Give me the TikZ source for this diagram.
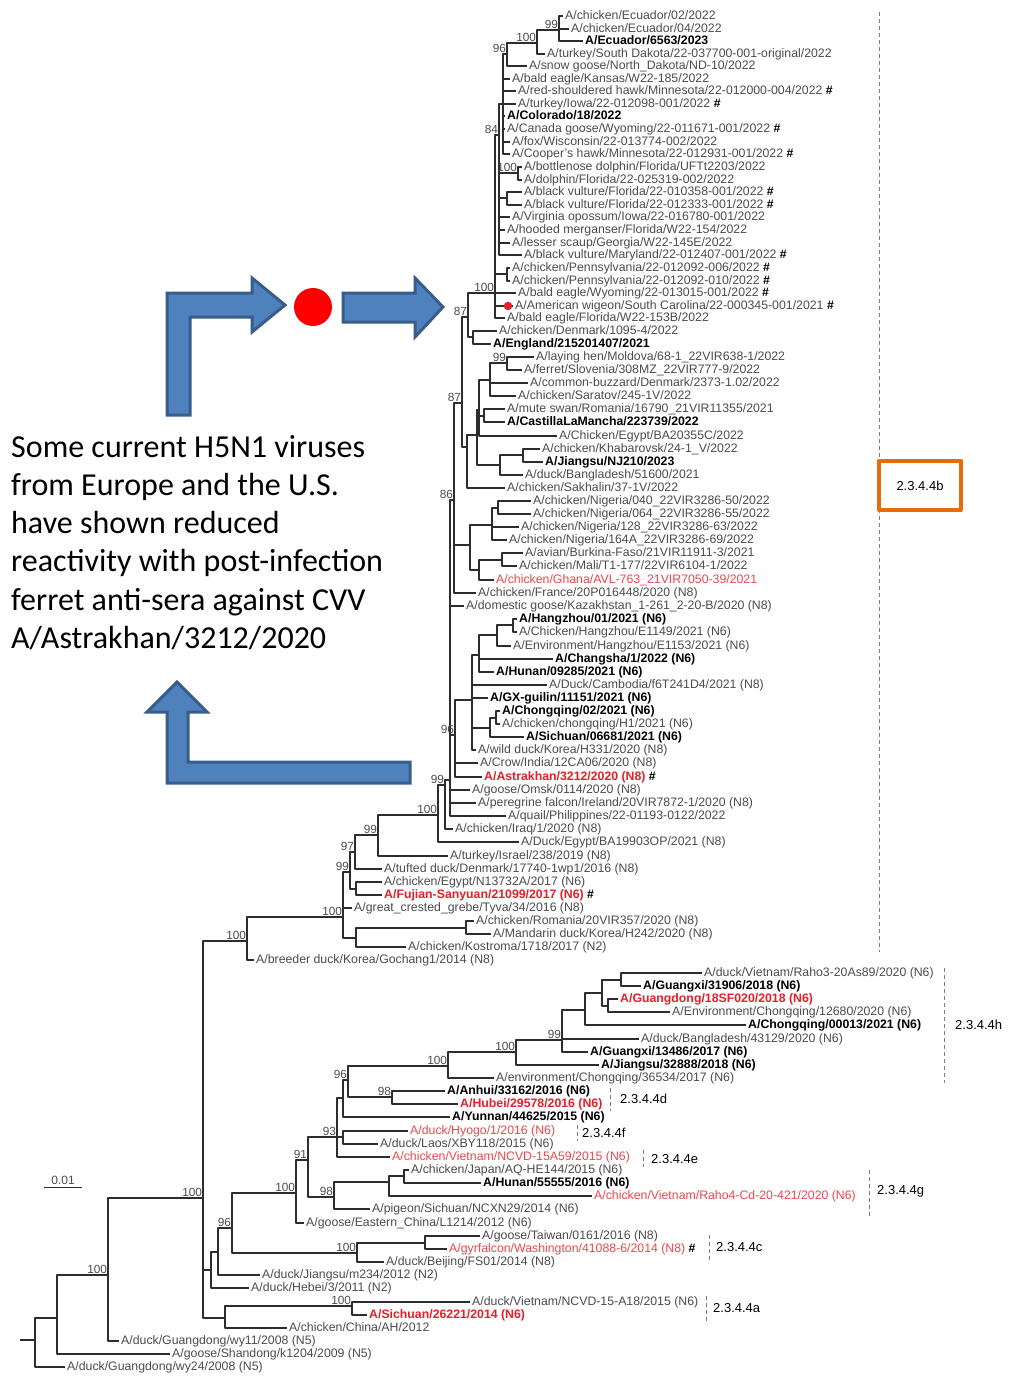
\documentclass[tikz,border=0pt]{standalone}
\usepackage{fontspec}
\setmainfont{Liberation Sans}
\newfontfamily\notefont{Carlito}
\definecolor{treegray}{RGB}{45,45,45}
\definecolor{leafgray}{RGB}{75,75,75}
\definecolor{virred}{RGB}{230,30,40}
\definecolor{virredlt}{RGB}{238,70,75}
\definecolor{arrowblue}{RGB}{79,129,189}
\definecolor{arrowedge}{RGB}{56,93,138}
\definecolor{boxorange}{RGB}{228,108,10}
\newcommand{\hashmark}{\ {\color{black}\bfseries\#}}
\tikzset{
  leaf/.style={anchor=west, inner xsep=2pt, inner ysep=0pt, text height=9pt, text depth=1.5pt, font=\fontsize{12.3}{13}\selectfont, text=leafgray},
  leafb/.style={leaf, font=\fontsize{12.3}{13}\selectfont\bfseries, text=black},
  leafr/.style={leaf, text=virredlt},
  leafrb/.style={leafb, text=virred},
  boot/.style={anchor=south east, inner sep=0.8pt, font=\fontsize{11.8}{12}\selectfont, text=leafgray},
  br/.style={draw=treegray, line width=1.3pt},
  cladeline/.style={draw=gray, line width=1pt, dash pattern=on 4pt off 3pt},
  cladetext/.style={anchor=west, inner sep=0pt, font=\fontsize{13}{14}\selectfont, text=black},
  blockarrow/.style={fill=arrowblue, draw=arrowedge, line width=3pt, line join=miter},
  note/.style={anchor=base west, inner sep=0pt, font=\fontsize{32}{38}\notefont}
}
\begin{document}
\begin{tikzpicture}[x=1pt, y=-1pt, line join=round]
\useasboundingbox (0,0) rectangle (1011,1376);
% leaves, 2.3.4.4b
\node[leaf] (t1) at (563,16) {A/chicken/Ecuador/02/2022};
\node[leaf] (t2) at (569,29) {A/chicken/Ecuador/04/2022};
\node[leafb] (t3) at (583,41) {A/Ecuador/6563/2023};
\node[leaf] (t4) at (545,54) {A/turkey/South Dakota/22-037700-001-original/2022};
\node[leaf] (t5) at (527,66) {A/snow goose/North\_Dakota/ND-10/2022};
\node[leaf] (t6) at (510,79) {A/bald eagle/Kansas/W22-185/2022};
\node[leaf] (t7) at (516,91) {A/red-shouldered hawk/Minnesota/22-012000-004/2022\hashmark};
\node[leaf] (t8) at (516,104) {A/turkey/Iowa/22-012098-001/2022\hashmark};
\node[leafb] (t9) at (505,116) {A/Colorado/18/2022};
\node[leaf] (t10) at (505,129) {A/Canada goose/Wyoming/22-011671-001/2022\hashmark};
\node[leaf] (t11) at (510,142) {A/fox/Wisconsin/22-013774-002/2022};
\node[leaf] (t12) at (510,154) {A/Cooper's hawk/Minnesota/22-012931-001/2022\hashmark};
\node[leaf] (t13) at (522,167) {A/bottlenose dolphin/Florida/UFTt2203/2022};
\node[leaf] (t14) at (522,180) {A/dolphin/Florida/22-025319-002/2022};
\node[leaf] (t15) at (522,192) {A/black vulture/Florida/22-010358-001/2022\hashmark};
\node[leaf] (t16) at (522,205) {A/black vulture/Florida/22-012333-001/2022\hashmark};
\node[leaf] (t17) at (510,217) {A/Virginia opossum/Iowa/22-016780-001/2022};
\node[leaf] (t18) at (505,230) {A/hooded merganser/Florida/W22-154/2022};
\node[leaf] (t19) at (510,243) {A/lesser scaup/Georgia/W22-145E/2022};
\node[leaf] (t20) at (522,255) {A/black vulture/Maryland/22-012407-001/2022\hashmark};
\node[leaf] (t21) at (510,268) {A/chicken/Pennsylvania/22-012092-006/2022\hashmark};
\node[leaf] (t22) at (510,281) {A/chicken/Pennsylvania/22-012092-010/2022\hashmark};
\node[leaf] (t23) at (516,293) {A/bald eagle/Wyoming/22-013015-001/2022\hashmark};
\node[leaf] (t24) at (513,306) {A/American wigeon/South Carolina/22-000345-001/2021\hashmark};
\node[leaf] (t25) at (505,318) {A/bald eagle/Florida/W22-153B/2022};
\node[leaf] (t26) at (497,331) {A/chicken/Denmark/1095-4/2022};
\node[leafb] (t27) at (491,344) {A/England/215201407/2021};
\node[leaf] (t28) at (534,357) {A/laying hen/Moldova/68-1\_22VIR638-1/2022};
\node[leaf] (t29) at (522,370) {A/ferret/Slovenia/308MZ\_22VIR777-9/2022};
\node[leaf] (t30) at (528,383) {A/common-buzzard/Denmark/2373-1.02/2022};
\node[leaf] (t31) at (516,396) {A/chicken/Saratov/245-1V/2022};
\node[leaf] (t32) at (505,409) {A/mute swan/Romania/16790\_21VIR11355/2021};
\node[leafb] (t33) at (505,422) {A/CastillaLaMancha/223739/2022};
\node[leaf] (t34) at (557,436) {A/Chicken/Egypt/BA20355C/2022};
\node[leaf] (t35) at (540,449) {A/chicken/Khabarovsk/24-1\_V/2022};
\node[leafb] (t36) at (543,462) {A/Jiangsu/NJ210/2023};
\node[leaf] (t37) at (523,475) {A/duck/Bangladesh/51600/2021};
\node[leaf] (t38) at (505,488) {A/chicken/Sakhalin/37-1V/2022};
\node[leaf] (t39) at (531,501) {A/chicken/Nigeria/040\_22VIR3286-50/2022};
\node[leaf] (t40) at (531,514) {A/chicken/Nigeria/064\_22VIR3286-55/2022};
\node[leaf] (t41) at (519,527) {A/chicken/Nigeria/128\_22VIR3286-63/2022};
\node[leaf] (t42) at (507,540) {A/chicken/Nigeria/164A\_22VIR3286-69/2022};
\node[leaf] (t43) at (523,553) {A/avian/Burkina-Faso/21VIR11911-3/2021};
\node[leaf] (t44) at (517,566) {A/chicken/Mali/T1-177/22VIR6104-1/2022};
\node[leafr] (t45) at (494,580) {A/chicken/Ghana/AVL-763\_21VIR7050-39/2021};
\node[leaf] (t46) at (476,593) {A/chicken/France/20P016448/2020 (N8)};
\node[leaf] (t47) at (464,606) {A/domestic goose/Kazakhstan\_1-261\_2-20-B/2020 (N8)};
\node[leafb] (t48) at (517,619) {A/Hangzhou/01/2021 (N6)};
\node[leaf] (t49) at (517,632) {A/Chicken/Hangzhou/E1149/2021 (N6)};
\node[leaf] (t50) at (511,646) {A/Environment/Hangzhou/E1153/2021 (N6)};
\node[leafb] (t51) at (553,659) {A/Changsha/1/2022 (N6)};
\node[leafb] (t52) at (494,672) {A/Hunan/09285/2021 (N6)};
\node[leaf] (t53) at (547,685) {A/Duck/Cambodia/f6T241D4/2021 (N8)};
\node[leafb] (t54) at (488,698) {A/GX-guilin/11151/2021 (N6)};
\node[leafb] (t55) at (500,711) {A/Chongqing/02/2021 (N6)};
\node[leaf] (t56) at (500,724) {A/chicken/chongqing/H1/2021 (N6)};
\node[leafb] (t57) at (524,737) {A/Sichuan/06681/2021 (N6)};
\node[leaf] (t58) at (476,750) {A/wild duck/Korea/H331/2020 (N8)};
\node[leaf] (t59) at (478,763) {A/Crow/India/12CA06/2020 (N8)};
\node[leafrb] (t60) at (482,777) {A/Astrakhan/3212/2020 (N8)\hashmark};
\node[leaf] (t61) at (470,790) {A/goose/Omsk/0114/2020 (N8)};
\node[leaf] (t62) at (476,803) {A/peregrine falcon/Ireland/20VIR7872-1/2020 (N8)};
\node[leaf] (t63) at (506,816) {A/quail/Philippines/22-01193-0122/2022};
\node[leaf] (t64) at (453,829) {A/chicken/Iraq/1/2020 (N8)};
\node[leaf] (t65) at (519,842) {A/Duck/Egypt/BA19903OP/2021 (N8)};
\node[leaf] (t66) at (448,856) {A/turkey/Israel/238/2019 (N8)};
\node[leaf] (t67) at (382,869) {A/tufted duck/Denmark/17740-1wp1/2016 (N8)};
\node[leaf] (t68) at (382,882) {A/chicken/Egypt/N13732A/2017 (N6)};
\node[leafrb] (t69) at (382,895) {A/Fujian-Sanyuan/21099/2017 (N6)\hashmark};
\node[leaf] (t70) at (352,908) {A/great\_crested\_grebe/Tyva/34/2016 (N8)};
\node[leaf] (t71) at (474,921) {A/chicken/Romania/20VIR357/2020 (N8)};
\node[leaf] (t72) at (491,934) {A/Mandarin duck/Korea/H242/2020 (N8)};
\node[leaf] (t73) at (406,947) {A/chicken/Kostroma/1718/2017 (N2)};
\node[leaf] (t74) at (254,960) {A/breeder duck/Korea/Gochang1/2014 (N8)};
% leaves, older clades
\node[leaf] (t75) at (702,973) {A/duck/Vietnam/Raho3-20As89/2020 (N6)};
\node[leafb] (t76) at (641,986) {A/Guangxi/31906/2018 (N6)};
\node[leafrb] (t77) at (618,999) {A/Guangdong/18SF020/2018 (N6)};
\node[leaf] (t78) at (670,1012) {A/Environment/Chongqing/12680/2020 (N6)};
\node[leafb] (t79) at (746,1025) {A/Chongqing/00013/2021 (N6)};
\node[leaf] (t80) at (639,1039) {A/duck/Bangladesh/43129/2020 (N6)};
\node[leafb] (t81) at (588,1052) {A/Guangxi/13486/2017 (N6)};
\node[leafb] (t82) at (599,1065) {A/Jiangsu/32888/2018 (N6)};
\node[leaf] (t83) at (494,1078) {A/environment/Chongqing/36534/2017 (N6)};
\node[leafb] (t84) at (445,1091) {A/Anhui/33162/2016 (N6)};
\node[leafrb] (t85) at (458,1104) {A/Hubei/29578/2016 (N6)};
\node[leafb] (t86) at (450,1117) {A/Yunnan/44625/2015 (N6)};
\node[leafr] (t87) at (408,1131) {A/duck/Hyogo/1/2016 (N6)};
\node[leaf] (t88) at (378,1144) {A/duck/Laos/XBY118/2015 (N6)};
\node[leafr] (t89) at (390,1157) {A/chicken/Vietnam/NCVD-15A59/2015 (N6)};
\node[leaf] (t90) at (409,1170) {A/chicken/Japan/AQ-HE144/2015 (N6)};
\node[leafb] (t91) at (481,1183) {A/Hunan/55555/2016 (N6)};
\node[leafr] (t92) at (592,1196) {A/chicken/Vietnam/Raho4-Cd-20-421/2020 (N6)};
\node[leaf] (t93) at (370,1209) {A/pigeon/Sichuan/NCXN29/2014 (N6)};
\node[leaf] (t94) at (304,1223) {A/goose/Eastern\_China/L1214/2012 (N6)};
\node[leaf] (t95) at (480,1236) {A/goose/Taiwan/0161/2016 (N8)};
\node[leafr] (t96) at (447,1249) {A/gyrfalcon/Washington/41088-6/2014 (N8)\hashmark};
\node[leaf] (t97) at (384,1262) {A/duck/Beijing/FS01/2014 (N8)};
\node[leaf] (t98) at (260,1275) {A/duck/Jiangsu/m234/2012 (N2)};
\node[leaf] (t99) at (249,1288) {A/duck/Hebei/3/2011 (N2)};
\node[leaf] (t100) at (470,1302) {A/duck/Vietnam/NCVD-15-A18/2015 (N6)};
\node[leafrb] (t101) at (367,1315) {A/Sichuan/26221/2014 (N6)};
\node[leaf] (t102) at (287,1328) {A/chicken/China/AH/2012};
\node[leaf] (t103) at (119,1341) {A/duck/Guangdong/wy11/2008 (N5)};
\node[leaf] (t104) at (170,1354) {A/goose/Shandong/k1204/2009 (N5)};
\node[leaf] (t105) at (65,1367) {A/duck/Guangdong/wy24/2008 (N5)};
% inner nodes
\coordinate (a1) at (559,30); \coordinate (a2) at (537,43); \coordinate (a3) at (507,54);
\coordinate (a4) at (503,104); \coordinate (b1) at (499,135); \coordinate (d1) at (518,173);
\coordinate (d2) at (507,198); \coordinate (c1) at (495,293); \coordinate (d3) at (507,274);
\coordinate (d4) at (473,337); \coordinate (c2) at (468,317); \coordinate (e1) at (507,363);
\coordinate (e2) at (490,380); \coordinate (e3) at (484,416); \coordinate (e4) at (479,410);
\coordinate (e5) at (523,455); \coordinate (e6) at (500,465); \coordinate (e7) at (477,435);
\coordinate (e8) at (467,447); \coordinate (g1) at (462,403); \coordinate (h1) at (498,508);
\coordinate (h2) at (492,525); \coordinate (h5) at (502,560); \coordinate (h4) at (479,570);
\coordinate (h3) at (470,545); \coordinate (g2) at (454,500); \coordinate (k7) at (513,625);
\coordinate (k8) at (497,635); \coordinate (k9) at (479,655); \coordinate (k4) at (496,718);
\coordinate (k5) at (490,728); \coordinate (k10) at (472,700); \coordinate (k13) at (455,735);
\coordinate (k14) at (450,780); \coordinate (k15) at (445,785); \coordinate (k16) at (438,815);
\coordinate (m1) at (378,835); \coordinate (m2) at (355,852); \coordinate (m3) at (356,889);
\coordinate (m4) at (350,872); \coordinate (m7) at (466,928); \coordinate (m6) at (356,938);
\coordinate (m5) at (343,917); \coordinate (m8) at (247,941);
\coordinate (n1) at (621,980); \coordinate (n2) at (608,1006); \coordinate (n3) at (602,993);
\coordinate (n4) at (585,1010); \coordinate (n5) at (562,1040); \coordinate (n6) at (516,1052);
\coordinate (n7) at (448,1066); \coordinate (n8) at (392,1097); \coordinate (n9) at (348,1080);
\coordinate (n10) at (343,1098); \coordinate (p1) at (343,1137); \coordinate (p2) at (337,1137);
\coordinate (p6) at (404,1176); \coordinate (p5) at (389,1182); \coordinate (p4) at (334,1197);
\coordinate (p7) at (308,1160); \coordinate (p3) at (296,1193); \coordinate (q1) at (425,1243);
\coordinate (q2) at (357,1253); \coordinate (q3) at (232,1228); \coordinate (q4) at (218,1252);
\coordinate (q5) at (211,1270); \coordinate (r1) at (352,1306); \coordinate (r2) at (225,1318);
\coordinate (s1) at (203,1198); \coordinate (s2) at (108,1275); \coordinate (s3) at (57,1318);
\coordinate (s4) at (35,1340); \coordinate (root) at (20,1340);
% branches
\foreach \p/\c in {a1/t1, a1/t2, a1/t3, a2/a1, a2/t4, a3/a2, a3/t5, a4/a3, a4/t6, a4/t7, a4/t8,
  a4/t9, a4/t10, a4/t11, a4/t12, d1/t13, d1/t14, d2/t15, d2/t16, b1/a4, b1/d1, b1/d2, b1/t17,
  b1/t18, b1/t19, b1/t20, d3/t21, d3/t22, c1/b1, c1/d3, c1/t23, c1/t24, c1/t25, d4/t26, d4/t27,
  c2/c1, c2/d4, e1/t28, e1/t29, e2/e1, e2/t30, e2/t31, e3/t32, e3/t33, e4/e2, e4/e3, e4/t34,
  e5/t35, e5/t36, e6/e5, e6/t37, e7/e4, e7/e6, e8/e7, e8/t38, g1/c2, g1/e8, h1/t39, h1/t40,
  h2/h1, h2/t41, h2/t42, h5/t43, h5/t44, h4/h5, h4/t45, h3/h2, h3/h4, g2/g1, g2/h3, g2/t46,
  k7/t48, k7/t49, k8/k7, k8/t50, k9/k8, k9/t51, k9/t52, k4/t55, k4/t56, k5/k4, k5/t57, k10/k9,
  k10/t53, k10/t54, k10/k5, k10/t58, k13/k10, k13/t59, k13/t60, k14/g2, k14/t47, k14/k13,
  k14/t61, k14/t62, k14/t63, k15/k14, k15/t64, k16/k15, k16/t65, m1/k16, m1/t66, m2/m1, m2/t67,
  m3/t68, m3/t69, m4/m2, m4/m3, m7/t71, m7/t72, m6/m7, m6/t73, m5/m4, m5/t70, m5/m6, m8/m5,
  m8/t74}
  \draw[br] (\p) |- (\c);
\foreach \p/\c in {n1/t75, n1/t76, n2/t77, n2/t78, n3/n1, n3/n2, n4/n3, n4/t79, n5/n4, n5/t80,
  n5/t81, n6/n5, n6/t82, n7/n6, n7/t83, n8/t84, n8/t85, n9/n7, n9/n8, n10/n9, n10/t86, p1/t87,
  p1/t88, p2/n10, p2/p1, p2/t89, p6/t90, p6/t91, p5/p6, p5/t92, p4/p5, p4/t93, p7/p2, p7/p4,
  p3/p7, p3/t94, q1/t95, q1/t96, q2/q1, q2/t97, q3/p3, q3/q2, q4/q3, q4/t98, q5/q4, q5/t99,
  r1/t100, r1/t101, r2/r1, r2/t102, s1/m8, s1/q5, s1/r2, s2/s1, s2/t103, s3/s2, s3/t104,
  s4/s3, s4/t105, root/s4}
  \draw[br] (\p) |- (\c);
% support values
\foreach \n/\v in {a1/99, a2/100, a3/96, b1/84, d1/100, c1/100, c2/87, g1/87, e1/99, g2/86,
  k13/96, k15/99, k16/100, m1/99, m2/97, m4/99, m5/100, m8/100, s1/100, n5/99, n6/100,
  n7/100, n9/96, n8/98, p2/93, p7/91, p3/100, p4/98, q3/96, q2/100, r1/100, s2/100}
  \node[boot] (bs-\n) at (\n) {\v};
\node[circle, fill=virred, inner sep=0pt, minimum size=8.5pt] (wigeondot) at (508,306) {};
% clade marks
\draw[cladeline] (879,12) -- (879,952);
\node[draw=boxorange, line width=4pt, fill=white, minimum width=82pt, minimum height=49pt,
  font=\fontsize{13}{14}\selectfont] (cb) at (920,485.5) {2.3.4.4b};
\draw[cladeline] (944,968) -- (944,1083);
\node[cladetext] (ch) at (955,1025) {2.3.4.4h};
\draw[cladeline] (610,1088) -- (610,1111);
\node[cladetext] (cd) at (620,1099) {2.3.4.4d};
\draw[cladeline] (577,1125) -- (577,1141);
\node[cladetext] (cf) at (582,1133) {2.3.4.4f};
\draw[cladeline] (643,1150) -- (643,1167);
\node[cladetext] (ce) at (651,1159) {2.3.4.4e};
\draw[cladeline] (869,1170) -- (869,1218);
\node[cladetext] (cg) at (877,1191) {2.3.4.4g};
\draw[cladeline] (709,1235) -- (709,1263);
\node[cladetext] (cc) at (716,1247) {2.3.4.4c};
\draw[cladeline] (706,1296) -- (706,1322);
\node[cladetext] (ca) at (713,1308) {2.3.4.4a};
% scale bar
\coordinate (sb0) at (44,1187); \coordinate (sb1) at (82,1187);
\draw[br, line width=1pt] (sb0) -- (sb1);
\node[anchor=south, inner sep=1pt, font=\fontsize{12}{13}\selectfont, text=leafgray] (sbl) at (63,1186) {0.01};
% arrows and note
\filldraw[blockarrow] (167,415) -- (167,293) -- (252,293) -- (252,278) -- (285,305) -- (252,332)
  -- (252,317) -- (190,317) -- (190,415) -- cycle;
\node[circle, fill=red, inner sep=0pt, minimum size=38pt] (hotdot) at (313,307) {};
\filldraw[blockarrow] (343,293) -- (415,293) -- (415,278) -- (443,307) -- (415,337) -- (415,322)
  -- (343,322) -- cycle;
\filldraw[blockarrow] (177,682) -- (207,712) -- (188,712) -- (188,762) -- (410,762) -- (410,783)
  -- (167,783) -- (167,712) -- (147,712) -- cycle;
\foreach \ln [count=\i] in {Some current H5N1 viruses, from Europe and the U.S., have shown reduced,
  reactivity with post-infection, ferret anti-sera against CVV, A/Astrakhan/3212/2020}
  \node[note] (note\i) at (11,{457+38.3*(\i-1)}) {\ln};
\end{tikzpicture}
\end{document}
